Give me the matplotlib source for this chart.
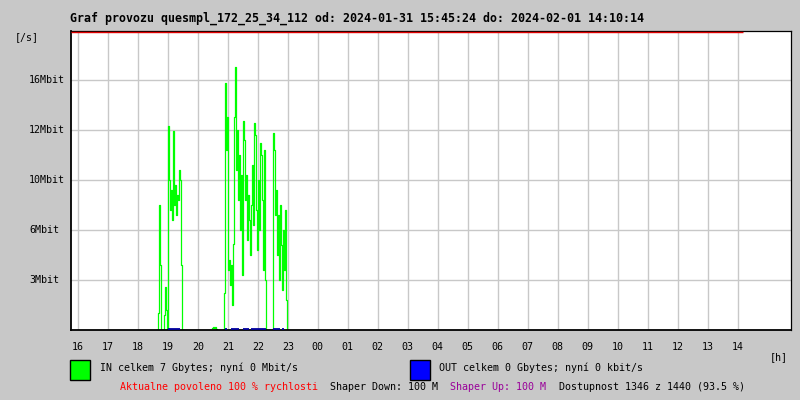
import numpy as np
import matplotlib.pyplot as plt
from matplotlib.patches import Rectangle
from matplotlib.transforms import blended_transform_factory

# === data ===
title = "Graf provozu quesmpl_172_25_34_112 od: 2024-01-31 15:45:24 do: 2024-02-01 14:10:14"
t_from = "15:45:24"          # day 1
t_to = "38:10:14"            # 14:10:14 on day 2 (hours counted from day 1 midnight)

hour_ticks = list(range(16, 39))
hour_labels = ["16", "17", "18", "19", "20", "21", "22", "23", "00", "01", "02", "03",
               "04", "05", "06", "07", "08", "09", "10", "11", "12", "13", "14"]

y_ticks = [1, 2, 3, 4, 5]
y_labels = ["3Mbit", "6Mbit", "10Mbit", "12Mbit", "16Mbit"]

step_min = 2  # one sample every 2 minutes

# IN traffic, in y-axis units (one grid row = 1)
in1_start = "18:36"
in1 = [0, 0, 0.34, 2.5, 1.3, 0, 0, 0, 0.3, 0.87, 0.4, 0, 4.07, 3.0, 2.4, 2.8, 2.2,
       3.97, 2.5, 2.9, 2.3, 2.7, 2.6, 3.2, 3.0, 1.3, 0]
in2_start = "20:28"
in2 = [0.04, 0.07, 0.05, 0.07, 0.03, 0]
in3_start = "20:51"
in3 = [0, 0.74, 4.93, 3.6, 4.27, 1.2, 1.4, 0.9, 1.3, 0.5, 1.73, 4.27, 5.27, 3.2, 4.0,
       2.6, 3.5, 2.0, 3.1, 1.1, 4.17, 3.8, 2.6, 3.1, 1.8, 2.7, 2.2, 1.5, 2.5, 3.3, 2.1,
       4.13, 3.9, 2.4, 1.6, 3.0, 2.0, 3.73, 3.5, 2.6, 1.2, 3.6, 1.0, 0, 0, 0, 0, 0, 0,
       0, 3.93, 3.6, 2.3, 2.8, 1.5, 2.3, 1.0, 2.5, 1.7, 0.8, 2.0, 1.2, 2.4, 0.6, 0]

# OUT traffic (tiny), periods with non-zero value
out_start = ["19:00", "20:55", "21:07", "21:30", "21:46", "22:30", "22:48"]
out_end = ["19:25", "20:58", "21:23", "21:43", "22:17", "22:45", "22:52"]
out_level = 0.03

legend_in = "IN celkem 7 Gbytes; nyní 0 Mbit/s"
legend_out = "OUT celkem 0 Gbytes; nyní 0 kbit/s"


def hours(s):
    parts = [float(p) for p in s.split(":")]
    return parts[0] + parts[1] / 60 + (parts[2] / 3600 if len(parts) > 2 else 0)


BG = "#c8c8c8"
GRID = "#c8c8c8"
mono = "DejaVu Sans Mono"

fig = plt.figure(figsize=(8, 4), dpi=100, facecolor=BG)
ax = fig.add_axes([70.5 / 800, 70 / 400, 720 / 800, 299 / 400])
ax.set_facecolor("white")

x0, x1 = hours(t_from), hours(t_from) + 24
ax.set_xlim(x0, x1)
ax.set_ylim(0, 5.98)

# traffic
for start, vals in [(in1_start, in1), (in2_start, in2), (in3_start, in3)]:
    t = hours(start) + np.arange(len(vals)) * step_min / 60
    ax.step(t, vals, where="post", color="#00ff00", lw=0.9, zorder=2)

for s, e in zip(out_start, out_end):
    ax.plot([hours(s), hours(e)], [out_level, out_level], color="#0000a0", lw=1.3,
            solid_capstyle="butt", zorder=2.6)

# availability line at top
ax.plot([hours(t_from), hours(t_to)], [5.965, 5.965], color="#e00000", lw=1.0,
        solid_capstyle="butt", zorder=3)

# grid and frame
ax.set_xticks(hour_ticks)
ax.set_yticks(y_ticks)
ax.grid(True, color=GRID, lw=1.0)
ax.set_axisbelow(True)
ax.tick_params(axis="x", length=0, labelbottom=False)
ax.tick_params(axis="y", length=6.5, color=GRID, width=0.9, labelleft=False)
for side, sp in ax.spines.items():
    sp.set_color("black")
    sp.set_linewidth(1.3 if side in ("left", "bottom") else 0.9)
    sp.set_zorder(2.5)

# tick labels
fx = blended_transform_factory(ax.transData, fig.transFigure)
for h, lab in zip(hour_ticks, hour_labels):
    ax.text(h, 1 - 347 / 400, lab, transform=fx, ha="center", va="center",
            family=mono, fontsize=7.2, color="black")
fy = blended_transform_factory(fig.transFigure, ax.transData)
for v, lab in zip(y_ticks, y_labels):
    ax.text(29 / 800, v, lab, transform=fy, ha="left", va="center", family=mono,
            fontsize=7.2, color="black",
            bbox=dict(facecolor=BG, edgecolor="none", pad=0.5))

fig.text(15 / 800, 1 - 37 / 400, "[/s]", ha="left", va="center", family=mono, fontsize=7.2)
fig.text(770 / 800, 1 - 357 / 400, "[h]", ha="left", va="center", family=mono, fontsize=7.2)

fig.text(70 / 800, 1 - 18 / 400, title, ha="left", va="center", family=mono,
         fontsize=8.4, fontweight="bold")

# legend boxes
fig.add_artist(Rectangle((70 / 800, 1 - 380 / 400), 20 / 800, 20 / 400,
                         transform=fig.transFigure, facecolor="#00ff00",
                         edgecolor="black", lw=1.0))
fig.add_artist(Rectangle((410 / 800, 1 - 380 / 400), 20 / 800, 20 / 400,
                         transform=fig.transFigure, facecolor="#0000ff",
                         edgecolor="black", lw=1.0))
fig.text(100 / 800, 1 - 368 / 400, legend_in, ha="left", va="center", family=mono, fontsize=7.2)
fig.text(439 / 800, 1 - 368 / 400, legend_out, ha="left", va="center", family=mono, fontsize=7.2)

yb = 1 - 387 / 400
fig.text(120 / 800, yb, "Aktualne povoleno 100 % rychlosti", color="#ff0000",
         ha="left", va="center", family=mono, fontsize=7.2)
fig.text(330 / 800, yb, "Shaper Down: 100 M", color="black",
         ha="left", va="center", family=mono, fontsize=7.2)
fig.text(450 / 800, yb, "Shaper Up: 100 M", color="#990099",
         ha="left", va="center", family=mono, fontsize=7.2)
fig.text(559 / 800, yb, "Dostupnost 1346 z 1440 (93.5 %)", color="black",
         ha="left", va="center", family=mono, fontsize=7.2)

fig.savefig("out.png", dpi=100, facecolor=BG)
